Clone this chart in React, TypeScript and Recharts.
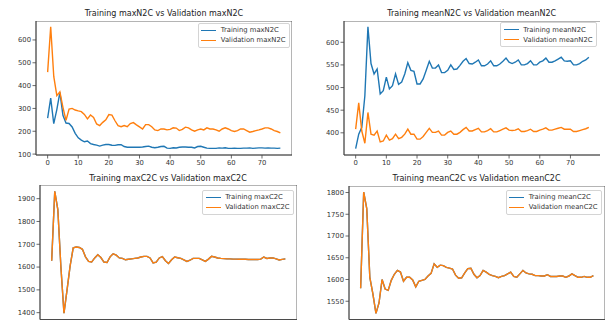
import React from 'react';
import { LineChart, Line, XAxis, YAxis, Legend, ReferenceArea } from 'recharts';

// Epoch index shared by every panel
const epochs = [
  0, 1, 2, 3, 4, 5, 6, 7, 8, 9, 10, 11, 12, 13, 14, 15, 16, 17, 18, 19,
  20, 21, 22, 23, 24, 25, 26, 27, 28, 29, 30, 31, 32, 33, 34, 35, 36, 37, 38, 39,
  40, 41, 42, 43, 44, 45, 46, 47, 48, 49, 50, 51, 52, 53, 54, 55, 56, 57, 58, 59,
  60, 61, 62, 63, 64, 65, 66, 67, 68, 69, 70, 71, 72, 73, 74, 75, 76,
];
const xTicks = [0, 10, 20, 30, 40, 50, 60, 70];

const trainMaxN2C = [
  258, 345, 233, 295, 370, 270, 236, 234, 219, 191, 171, 161, 154, 157, 146, 142, 139, 135, 139, 142,
  142, 139, 138, 141, 141, 133, 130, 130, 130, 130, 130, 131, 133, 135, 130, 128, 130, 133, 134, 126,
  125, 128, 127, 130, 131, 131, 130, 130, 127, 133, 134, 130, 126, 125, 125, 125, 127, 126, 128, 125,
  125, 126, 125, 125, 126, 126, 127, 125, 126, 127, 127, 126, 127, 126, 126, 125, 126,
];
const valMaxN2C = [
  459, 658, 440, 356, 373, 305, 248, 297, 300, 293, 289, 286, 274, 254, 271, 261, 232, 225, 239, 250,
  273, 271, 246, 225, 220, 225, 220, 234, 238, 228, 219, 210, 229, 229, 220, 206, 203, 210, 210, 206,
  208, 215, 214, 203, 208, 218, 215, 206, 200, 206, 210, 206, 215, 210, 210, 206, 200, 210, 215, 210,
  203, 199, 203, 210, 210, 203, 196, 199, 203, 206, 210, 215, 215, 210, 203, 199, 193,
];

const trainMeanN2C = [
  365, 397, 412, 482, 634, 553, 530, 541, 486, 493, 523, 497, 504, 530, 507, 512, 530, 555, 538, 536,
  508, 508, 519, 538, 558, 543, 543, 550, 533, 533, 538, 550, 540, 541, 549, 558, 564, 553, 552, 556,
  561, 548, 548, 552, 559, 548, 548, 552, 558, 565, 556, 553, 556, 561, 550, 550, 553, 559, 550, 550,
  556, 559, 565, 556, 556, 559, 563, 567, 559, 558, 559, 550, 550, 553, 558, 561, 567,
];
const valMeanN2C = [
  408, 466, 404, 377, 445, 397, 395, 404, 380, 382, 395, 384, 387, 397, 387, 390, 397, 408, 397, 397,
  386, 386, 392, 401, 410, 401, 401, 404, 395, 395, 401, 404, 397, 397, 401, 407, 412, 404, 404, 407,
  410, 402, 402, 405, 409, 402, 402, 405, 408, 411, 406, 405, 406, 409, 403, 403, 405, 408, 403, 403,
  406, 408, 411, 406, 406, 408, 410, 412, 408, 408, 408, 403, 403, 405, 407, 409, 412,
];

const trainMaxC2C = [
  1628, 1932, 1852, 1600, 1398, 1500, 1605, 1684, 1688, 1686, 1678, 1645, 1625, 1622, 1640, 1654, 1642, 1622, 1620, 1645,
  1658, 1652, 1640, 1638, 1632, 1634, 1636, 1638, 1640, 1644, 1647, 1647, 1640, 1618, 1622, 1640, 1646, 1628, 1616, 1632,
  1644, 1641, 1638, 1632, 1625, 1630, 1638, 1638, 1638, 1632, 1625, 1635, 1647, 1644, 1640, 1638, 1637, 1636, 1636, 1635,
  1635, 1634, 1634, 1634, 1633, 1633, 1633, 1633, 1635, 1644, 1638, 1640, 1640, 1636, 1631, 1634, 1636,
];
const valMaxC2C = [
  1628, 1932, 1852, 1600, 1398, 1500, 1605, 1684, 1688, 1686, 1678, 1645, 1625, 1622, 1640, 1654, 1642, 1622, 1620, 1645,
  1658, 1652, 1640, 1638, 1632, 1634, 1636, 1638, 1640, 1644, 1647, 1647, 1640, 1618, 1622, 1640, 1646, 1628, 1616, 1632,
  1644, 1641, 1638, 1632, 1625, 1630, 1638, 1638, 1638, 1632, 1625, 1635, 1647, 1644, 1640, 1638, 1637, 1636, 1636, 1635,
  1635, 1634, 1634, 1634, 1633, 1633, 1633, 1633, 1635, 1644, 1638, 1640, 1640, 1636, 1631, 1634, 1636,
];

const trainMeanC2C = [
  1580, 1801, 1763, 1605, 1567, 1522, 1546, 1600, 1578, 1575, 1598, 1612, 1621, 1617, 1596, 1605, 1605, 1599, 1583, 1596,
  1598, 1600, 1608, 1614, 1636, 1628, 1633, 1632, 1628, 1626, 1624, 1610, 1603, 1604, 1615, 1625, 1626, 1612, 1604, 1609,
  1621, 1617, 1612, 1609, 1607, 1604, 1607, 1609, 1613, 1617, 1607, 1605, 1613, 1621, 1615, 1613, 1612, 1609, 1609, 1608,
  1608, 1611, 1607, 1607, 1607, 1608, 1608, 1605, 1608, 1613, 1609, 1605, 1605, 1607, 1605, 1605, 1609,
];
const valMeanC2C = [
  1580, 1801, 1763, 1605, 1567, 1522, 1546, 1600, 1578, 1575, 1598, 1612, 1621, 1617, 1596, 1605, 1605, 1599, 1583, 1596,
  1598, 1600, 1608, 1614, 1636, 1628, 1633, 1632, 1628, 1626, 1624, 1610, 1603, 1604, 1615, 1625, 1626, 1612, 1604, 1609,
  1621, 1617, 1612, 1609, 1607, 1604, 1607, 1609, 1613, 1617, 1607, 1605, 1613, 1621, 1615, 1613, 1612, 1609, 1609, 1608,
  1608, 1611, 1607, 1607, 1607, 1608, 1608, 1605, 1608, 1613, 1609, 1605, 1605, 1607, 1605, 1605, 1609,
];

const yTicksMaxN2C = [100, 200, 300, 400, 500, 600];
const yTicksMeanN2C = [400, 450, 500, 550, 600];
const yTicksMaxC2C = [1400, 1500, 1600, 1700, 1800, 1900];
const yTicksMeanC2C = [1550, 1600, 1650, 1700, 1750, 1800];

const FONT = '"DejaVu Sans", "Liberation Sans", sans-serif';
const BLUE = '#1f77b4';
const ORANGE = '#ff7f0e';
const INK = '#333';
const SPINE = '#444';
const YW = 45; // y-axis gutter width
const XH = 22; // x-axis gutter height
const X_DOMAIN: [number, number] = [-3.8, 79.8];

type Frame = { l: number; r: number; t: number; b: number };
type PanelSpec = {
  title: string;
  titleY: number;
  trainName: string;
  valName: string;
  train: number[];
  val: number[];
  yDomain: [number, number];
  yTicks: number[];
  frame: Frame;
  legendRight: number;
  legendTop: number;
  showXLabels: boolean;
};

const panels: PanelSpec[] = [
  {
    title: 'Training maxN2C vs Validation maxN2C',
    titleY: 13.5,
    trainName: 'Training maxN2C',
    valName: 'Validation maxN2C',
    train: trainMaxN2C,
    val: valMaxN2C,
    yDomain: [96, 683],
    yTicks: yTicksMaxN2C,
    frame: { l: 36, r: 292, t: 20.5, b: 154.5 },
    legendRight: 289.5,
    legendTop: 22.5,
    showXLabels: true,
  },
  {
    title: 'Training meanN2C vs Validation meanN2C',
    titleY: 13.5,
    trainName: 'Training meanN2C',
    valName: 'Validation meanN2C',
    train: trainMeanN2C,
    val: valMeanN2C,
    yDomain: [351, 647],
    yTicks: yTicksMeanN2C,
    frame: { l: 343.5, r: 600, t: 20.5, b: 154.5 },
    legendRight: 596.5,
    legendTop: 22,
    showXLabels: true,
  },
  {
    title: 'Training maxC2C vs Validation maxC2C',
    titleY: 178.5,
    trainName: 'Training maxC2C',
    valName: 'Validation maxC2C',
    train: trainMaxC2C,
    val: valMaxC2C,
    yDomain: [1370, 1960],
    yTicks: yTicksMaxC2C,
    frame: { l: 39.5, r: 296.5, t: 185, b: 319.5 },
    legendRight: 293.5,
    legendTop: 189.5,
    showXLabels: false,
  },
  {
    title: 'Training meanC2C vs Validation meanC2C',
    titleY: 178.5,
    trainName: 'Training meanC2C',
    valName: 'Validation meanC2C',
    train: trainMeanC2C,
    val: valMeanC2C,
    yDomain: [1508, 1815],
    yTicks: yTicksMeanC2C,
    frame: { l: 348.5, r: 604.5, t: 185.5, b: 319 },
    legendRight: 601.5,
    legendTop: 189.5,
    showXLabels: false,
  },
];

const renderLegend = (props: any) => {
  const items = (props.payload || []) as any[];
  return (
    <div
      style={{
        background: 'rgba(255,255,255,0.85)',
        border: '1px solid #d4d4d4',
        borderRadius: 2,
        padding: '2px 3px 2px 2.5px',
        fontFamily: FONT,
        fontSize: 6.8,
        color: INK,
        whiteSpace: 'nowrap',
      }}
    >
      {items.map((item) => (
        <div key={String(item.value)} style={{ display: 'flex', alignItems: 'center', height: 9.7 }}>
          <span
            style={{
              display: 'inline-block',
              width: 15,
              height: 0,
              borderTop: `1.4px solid ${item.color}`,
              marginRight: 4.5,
            }}
          />
          <span>{item.value}</span>
        </div>
      ))}
    </div>
  );
};

function Panel({ p }: { p: PanelSpec }) {
  const w = p.frame.r - p.frame.l;
  const h = p.frame.b - p.frame.t;
  const chartW = YW + w;
  const chartH = h + XH;
  const chartLeft = p.frame.l - YW;
  const data = epochs.map((e, i) => ({ epoch: e, train: p.train[i], val: p.val[i] }));
  const tickStyle = { fontSize: 6.8, fill: INK, fontFamily: FONT };

  return (
    <>
      <div
        style={{
          position: 'absolute',
          left: p.frame.l - 40,
          top: p.titleY - 6,
          width: w + 80,
          height: 12,
          lineHeight: '12px',
          textAlign: 'center',
          fontFamily: FONT,
          fontSize: 8,
          color: '#222',
          whiteSpace: 'nowrap',
        }}
      >
        {p.title}
      </div>
      <div style={{ position: 'absolute', left: chartLeft, top: p.frame.t }}>
        <LineChart width={chartW} height={chartH} data={data} margin={{ top: 0, right: 0, bottom: 0, left: 0 }}>
          <XAxis
            xAxisId="bottom"
            dataKey="epoch"
            type="number"
            domain={X_DOMAIN}
            ticks={xTicks}
            interval={0}
            allowDataOverflow
            height={XH}
            tickSize={3.5}
            tickMargin={1.5}
            stroke={SPINE}
            strokeWidth={0.8}
            tick={p.showXLabels ? tickStyle : false}
            tickLine={{ stroke: SPINE, strokeWidth: 0.8 }}
          />
          <YAxis
            yAxisId="left"
            type="number"
            domain={p.yDomain}
            ticks={p.yTicks}
            interval={0}
            allowDataOverflow
            width={YW}
            tickSize={3.5}
            tickMargin={1.5}
            stroke={SPINE}
            strokeWidth={0.8}
            tick={tickStyle}
          />
          {/* axes frame: top and right spines */}
          <ReferenceArea
            xAxisId="bottom"
            yAxisId="left"
            x1={X_DOMAIN[0]}
            x2={X_DOMAIN[1]}
            y1={p.yDomain[0]}
            y2={p.yDomain[1]}
            fill="none"
            fillOpacity={0}
            stroke={SPINE}
            strokeWidth={0.8}
            strokeOpacity={1}
          />
          <Legend
            layout="vertical"
            align="center"
            verticalAlign="middle"
            content={renderLegend}
            wrapperStyle={{
              left: 'auto',
              right: chartW - (p.legendRight - chartLeft),
              top: p.legendTop - p.frame.t,
              bottom: 'auto',
              width: 'auto',
              height: 'auto',
            }}
          />
          <Line
            xAxisId="bottom"
            yAxisId="left"
            dataKey="train"
            name={p.trainName}
            stroke={BLUE}
            strokeWidth={1.4}
            dot={false}
            activeDot={false}
            isAnimationActive={false}
          />
          <Line
            xAxisId="bottom"
            yAxisId="left"
            dataKey="val"
            name={p.valName}
            stroke={ORANGE}
            strokeWidth={1.4}
            dot={false}
            activeDot={false}
            isAnimationActive={false}
          />
        </LineChart>
      </div>
    </>
  );
}

export default function App() {
  return (
    <div
      style={{
        position: 'absolute',
        left: 0,
        top: 0,
        width: 605,
        height: 322,
        overflow: 'hidden',
        background: '#fff',
        fontFamily: FONT,
      }}
    >
      {panels.map((p) => (
        <Panel key={p.title} p={p} />
      ))}
    </div>
  );
}
